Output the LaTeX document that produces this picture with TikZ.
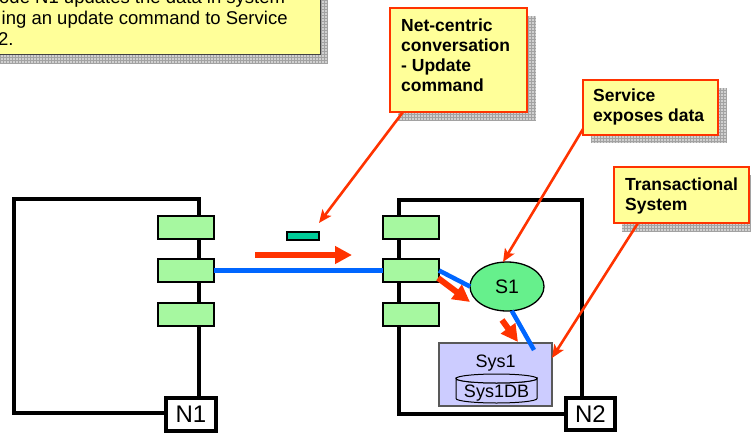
\documentclass[tikz,border=0pt]{standalone}
\usepackage{fontspec}
\setmainfont{Liberation Sans}
\usetikzlibrary{arrows.meta,shapes.geometric,calc}

\definecolor{notefill}{HTML}{FFFF99}
\definecolor{hotred}{HTML}{FF3300}
\definecolor{portgreen}{HTML}{A6F8A0}
\definecolor{svcgreen}{HTML}{66F08C}
\definecolor{packetteal}{HTML}{00CC99}
\definecolor{sysfill}{HTML}{CCCCFF}
\definecolor{linkblue}{HTML}{0066FF}
\definecolor{shadowfill}{HTML}{D0D0D0}
\definecolor{shadowgrid}{HTML}{A2A2A2}

% gridded drop shadow behind a note box
\newcommand\noteshadow[2]{%
  \fill[shadowfill] #1 rectangle #2;
  \draw[shadowgrid, line width=0.5, step=3pt] #1 grid #2;}

\tikzset{
  notebox/.style={draw=hotred, line width=2, fill=notefill, anchor=north west,
    inner sep=0, outer sep=0},
  introbox/.style={draw=black!75, line width=1, fill=notefill, anchor=north west,
    inner sep=0, outer sep=0},
  notetext/.style={anchor=north west, inner sep=0, align=left,
    font=\fontsize{17.5}{20}\selectfont\bfseries},
  introtext/.style={anchor=base west, inner sep=0,
    font=\fontsize{18.5}{21}\selectfont},
  frame/.style={draw=black, line width=3.3, anchor=north west, inner sep=0, outer sep=0},
  port/.style={draw=black, line width=1.4, fill=portgreen, anchor=north west,
    minimum width=56, minimum height=23, inner sep=0, outer sep=0},
  tag/.style={draw=black, line width=3.3, fill=white, anchor=north west,
    inner sep=0, outer sep=0, font=\fontsize{24}{28}\selectfont},
  packet/.style={draw=black, line width=1.1, fill=packetteal, anchor=north west,
    minimum width=32, minimum height=8, inner sep=0, outer sep=0},
  service/.style={ellipse, draw=black, line width=1.3, fill=svcgreen,
    minimum width=74, minimum height=49, inner sep=0, outer sep=0,
    font=\fontsize{19.5}{22}\selectfont},
  sysbox/.style={draw=black!65, line width=1.1, fill=sysfill, anchor=north west,
    minimum width=113, minimum height=63, inner sep=0, outer sep=0},
  systext/.style={anchor=base, inner sep=0, font=\fontsize{18}{21}\selectfont},
  dbshape/.style={draw=black, line width=1, fill=sysfill},
  link/.style={draw=linkblue, line width=4.5},
  flowarrow/.style={draw=hotred, line width=6,
    -{Triangle[length=17pt,width=17pt]}},
  pointer/.style={draw=hotred, line width=2.6,
    -{Stealth[length=13pt,width=11pt,inset=3pt]}},
}

\begin{document}
\begin{tikzpicture}[x=1pt,y=-1pt]
\useasboundingbox (0,0) rectangle (751,433);
\clip (0,0) rectangle (751,433);

% ---- note boxes with shadows ----
\noteshadow{(-12,-12)}{(328,63)}
\node[introbox, minimum width=340, minimum height=75] (intro) at (-20,-20) {};
\node[introtext] (introa) at (-1,4) {ode N1 updates the data in system};
\node[introtext] (introb) at (1.5,25) {ing an update command to Service};
\node[introtext] (introc) at (-2,46) {2.};

\noteshadow{(398,16)}{(536,120)}
\node[notebox, minimum width=137, minimum height=104] (nc) at (390,8) {};
\node[notetext] (nctext) at (401,19) {Net-centric\\conversation\\- Update\\command};

\noteshadow{(591,88)}{(727,143)}
\node[notebox, minimum width=135, minimum height=55] (svc) at (583,80) {};
\node[notetext] (svctext) at (593,89) {Service\\exposes data};

\noteshadow{(622,175)}{(758,232)}
\node[notebox, minimum width=135, minimum height=56] (trn) at (614,167) {};
\node[notetext] (trntext) at (625,178) {Transactional\\System};

% ---- node N1 ----
\node[frame, minimum width=185, minimum height=214] (n1) at (14,199) {};
\node[port] (p1a) at (158,216) {};
\node[port] (p1b) at (158,259) {};
\node[port] (p1c) at (158,303) {};
\node[tag, minimum width=50, minimum height=33] (n1tag) at (166,398) {N1};

% ---- node N2 ----
\node[frame, minimum width=183, minimum height=214] (n2) at (399,200) {};
\node[port] (p2a) at (383,216) {};
\node[port] (p2b) at (383,259) {};
\node[port] (p2c) at (383,303) {};
\node[tag, minimum width=49, minimum height=32] (n2tag) at (566,398) {N2};

% ---- message in transit ----
\node[packet] (pkt) at (287,232) {};

% ---- service and transactional system ----
\node[service] (s1) at (507,286.5) {S1};
\node[sysbox] (sys) at (439,343) {};
\node[systext] (syslbl) at (495.5,367) {Sys1};
\path[dbshape] (456,378.5) -- (456,398.5)
  arc[start angle=180, end angle=0, x radius=40.5, y radius=4.5]
  -- (537,378.5)
  arc[start angle=0, end angle=180, x radius=40.5, y radius=4.5] -- cycle;
\draw[dbshape] (496.5,378.5) ellipse [x radius=40.5, y radius=4.5];
\node[systext] (db) at (496.5,397) {Sys1DB};

% ---- links ----
\draw[link] (p1b.east) -- (p2b.west);
\draw[link] (p2b.east) -- (s1.west);
\draw[link] (s1.-79) -- ($(sys.north east)+(-18,7)$);

% ---- flow of the update ----
\coordinate (flowa) at (255,255);
\coordinate (flowb) at (352,255);
\coordinate (flowc) at (438,278);
\coordinate (flowd) at (470,302);
\coordinate (flowe) at (502,320);
\coordinate (flowf) at (518,342);
\draw[flowarrow] (flowa) -- (flowb);
\draw[flowarrow] (flowc) -- (flowd);
\draw[flowarrow] (flowe) -- (flowf);

% ---- note pointers ----
\coordinate (pkttip) at ($(pkt.north east)+(0,-9)$);
\draw[pointer] ($(nc.south west)+(13,0)$) -- (pkttip);
\draw[pointer] ($(svc.south west)+(0,-6)$) -- ($(s1.north)+(-4,0)$);
\draw[pointer] ($(trn.south west)+(24,0)$) -- ($(sys.north east)+(0,15)$);
\end{tikzpicture}
\end{document}
